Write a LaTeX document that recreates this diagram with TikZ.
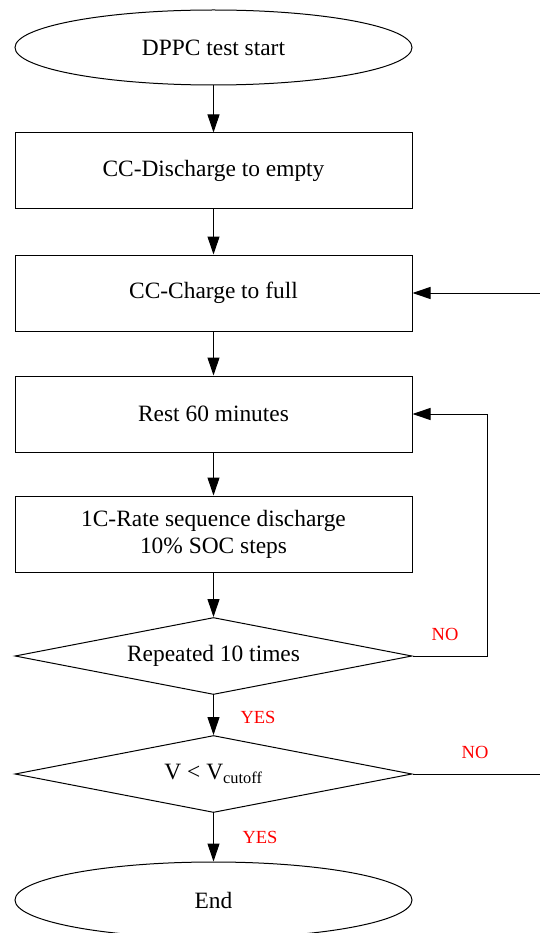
\documentclass[tikz,border=0pt]{standalone}
\usepackage{fontspec}
\setmainfont{Liberation Serif}
\usetikzlibrary{shapes.geometric,arrows.meta}
\begin{document}
\begin{tikzpicture}[x=1pt,y=-1pt,
  every node/.style={font=\fontsize{23.4}{27}\selectfont},
  base/.style={draw,line width=1pt,inner sep=0pt,minimum width=397pt,align=center},
  boxnode/.style={base,rectangle,minimum height=76pt},
  ovalnode/.style={base,ellipse,minimum height=75pt},
  decnode/.style={base,diamond,aspect=5.2,minimum height=77pt},
  lab/.style={text=red,font=\fontsize{18.5}{22}\selectfont,inner sep=0pt},
  conn/.style={line width=1pt,-{Triangle[length=18pt,width=12pt]}}]
\useasboundingbox (0,0) rectangle (540,933);
\node[ovalnode] (start) at (213.5,47.5) {DPPC test start};
\node[boxnode] (dis) at (213.5,171) {CC-Discharge to empty};
\node[boxnode] (chg) at (213.5,293) {CC-Charge to full};
\node[boxnode] (rest) at (213.5,414) {Rest 60 minutes};
\node[boxnode] (seq) at (213.5,534) {1C-Rate sequence discharge\\10\% SOC steps};
\node[decnode] (rep) at (213.5,656) {Repeated 10 times};
\node[decnode] (volt) at (213.5,774) {V < V\textsubscript{cutoff}};
\node[ovalnode,minimum height=76pt] (end) at (213.5,900) {End};
\coordinate (loopA) at (487,656);
\coordinate (loopB) at (560,774);
\draw[conn] (start) -- (dis);
\draw[conn] (dis) -- (chg);
\draw[conn] (chg) -- (rest);
\draw[conn] (rest) -- (seq);
\draw[conn] (seq) -- (rep);
\draw[conn] (rep) -- (volt);
\draw[conn] (volt) -- (end);
\draw[conn] (rep.east) -- (loopA) |- (rest.east);
\draw[conn] (volt.east) -- (loopB) |- (chg.east);
\node[lab] (no1) at (445,634) {NO};
\node[lab] (yes1) at (258,717) {YES};
\node[lab] (no2) at (475,752) {NO};
\node[lab] (yes2) at (260,837) {YES};
\end{tikzpicture}
\end{document}
